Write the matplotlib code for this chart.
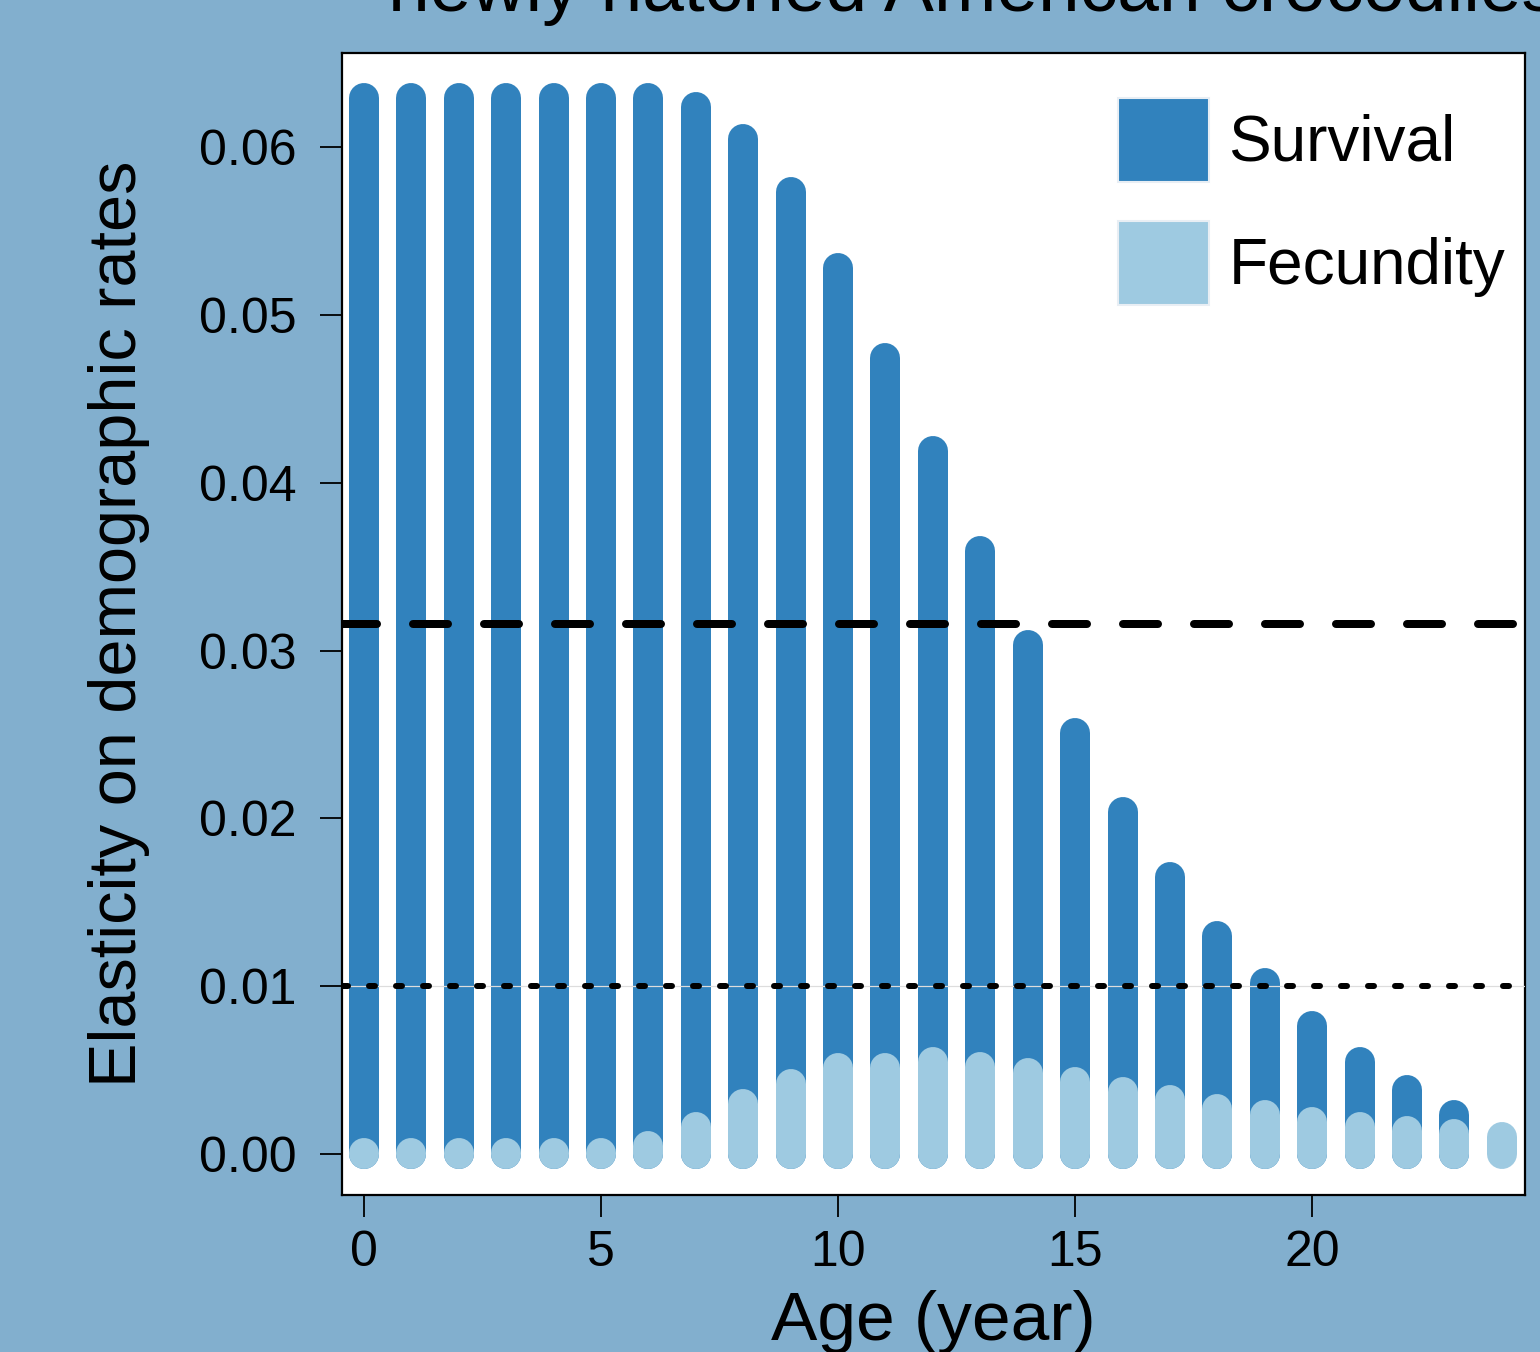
import matplotlib
matplotlib.use("Agg")
import matplotlib.pyplot as plt
from matplotlib.patches import Patch
import numpy as np

ages = list(range(25))
survival = [0.0629, 0.0629, 0.0629, 0.0629, 0.0629, 0.0629, 0.0629, 0.0624, 0.0605,
            0.0573, 0.0528, 0.0474, 0.0419, 0.0359, 0.0303, 0.0251, 0.0204, 0.0165,
            0.0130, 0.0102, 0.0076, 0.0055, 0.0038, 0.0023, 0.0000]
fecundity = [0.00005, 0.00005, 0.00005, 0.00005, 0.00005, 0.00005, 0.0005, 0.0016, 0.0030,
             0.0042, 0.0051, 0.0051, 0.0055, 0.0052, 0.0048, 0.0043, 0.0037, 0.0032,
             0.0027, 0.0023, 0.0019, 0.0016, 0.0014, 0.0012, 0.0010]
threshold_dashed = 0.0316
threshold_dotted = 0.0100
xticks = [0, 5, 10, 15, 20]
yticks = [0.00, 0.01, 0.02, 0.03, 0.04, 0.05, 0.06]
ytick_labels = ["0.00", "0.01", "0.02", "0.03", "0.04", "0.05", "0.06"]
title_text = "newly hatched American crocodiles"

plt.rcParams['font.family'] = ['Liberation Sans', 'DejaVu Sans']
plt.rcParams['lines.scale_dashes'] = False

W, H = 1540, 1352
DPI = 100
BG = "#82AFCE"
DARK = "#3182BD"
LIGHT = "#9ECAE1"

fig = plt.figure(figsize=(W / DPI, H / DPI), dpi=DPI, facecolor=BG)
ax = fig.add_axes([342 / W, (H - 1195) / H, (1525 - 342) / W, (1195 - 53) / H])
ax.set_facecolor("white")

px = 72.0 / DPI  # points per pixel
bar_lw = 30 * px

lc1 = ax.vlines(ages, 0, survival, colors=DARK, linewidth=bar_lw, zorder=2)
lc1.set_capstyle('round')
lc2 = ax.vlines(ages, 0, fecundity, colors=LIGHT, linewidth=bar_lw, zorder=3)
lc2.set_capstyle('round')

ax.axhline(threshold_dotted, color="#dddddd", linewidth=1.2 * px, zorder=4)
ax.axhline(threshold_dashed, color="black", linewidth=8 * px,
           linestyle=(0, (35 * px, 36 * px)), dash_capstyle='round', zorder=5)
ax.axhline(threshold_dotted, color="black", linewidth=6 * px,
           linestyle=(0, (6 * px, 21 * px)), dash_capstyle='round', zorder=5)

ax.set_xlim(-0.464, 24.49)
ax.set_ylim(-0.00244, 0.0656)

ax.set_xticks(xticks)
ax.set_xticklabels([str(t) for t in xticks])
ax.set_yticks(yticks)
ax.set_yticklabels(ytick_labels)
ax.tick_params(axis='both', direction='out', length=16, width=1.3, colors='black',
               labelsize=36)
ax.tick_params(axis='y', pad=17)
ax.tick_params(axis='x', pad=9)
for s in ax.spines.values():
    s.set_linewidth(1.6)
    s.set_color("black")

ax.set_xlabel("Age (year)", fontsize=50)
ax.xaxis.set_label_coords(0.5, (1195 - 1290) / 1142)
ax.set_ylabel("Elasticity on demographic rates", fontsize=48)
ax.yaxis.set_label_coords((150 - 342) / 1183, 0.5)

handles = [Patch(facecolor=DARK, edgecolor="#e8eef4", linewidth=1.5),
           Patch(facecolor=LIGHT, edgecolor="#e8eef4", linewidth=1.5)]
leg = ax.legend(handles, ["Survival", "Fecundity"], loc='upper left',
                bbox_to_anchor=((1118 - 342) / 1183, (1195 - 98) / 1142),
                frameon=False, fontsize=46, handlelength=1.43, handleheight=1.64,
                labelspacing=0.62, handletextpad=0.3, borderpad=0, borderaxespad=0)

fig.text(388 / W, (H - 11) / H, title_text, fontsize=54, ha='left', va='baseline',
         color='black')

fig.savefig("out.png", dpi=DPI, facecolor=BG)
